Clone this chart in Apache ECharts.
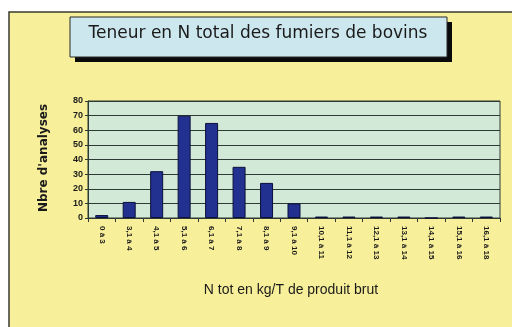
<!DOCTYPE html>
<html>
<head>
<meta charset="utf-8">
<script src="https://cdn.jsdelivr.net/npm/echarts@6/dist/echarts.min.js"></script>
<style>
  html, body { margin: 0; padding: 0; background: #ffffff; }
  #chart { width: 512px; height: 327px; }
</style>
</head>
<body>
<div id="chart"></div>
<script>
// Classes de teneur en azote total (kg/T de produit brut)
const categories = [
  '0 à 3', '3,1 à 4', '4,1 à 5', '5,1 à 6', '6,1 à 7', '7,1 à 8', '8,1 à 9',
  '9,1 à 10', '10,1 à 11', '11,1 à 12', '12,1 à 13', '13,1 à 14', '14,1 à 15',
  '15,1 à 16', '16,1 à 18'
];
// Nombre d'analyses par classe
const analyses = [2, 11, 32, 70, 65, 35, 24, 10, 1, 1, 1, 1, 0, 1, 1];
const yTicks = [0, 10, 20, 30, 40, 50, 60, 70, 80];

const titleText = 'Teneur en N total des fumiers de bovins';
const yName = "Nbre d'analyses";
const xName = 'N tot en kg/T de produit brut';

const chart = echarts.init(document.getElementById('chart'), null, { renderer: 'canvas' });

chart.setOption({
  backgroundColor: '#ffffff',
  animation: false,
  graphic: [
    // fond du graphique
    { type: 'rect', z: -10, shape: { x: 9, y: 12, width: 510, height: 320 },
      style: { fill: '#f8ef9a', stroke: '#3a3a30', lineWidth: 1.5 } },
    // ombre du cadre de titre
    { type: 'rect', z: 1, shape: { x: 75, y: 22, width: 377, height: 40 },
      style: { fill: '#0a0a0a' } },
    // cadre de titre
    { type: 'rect', z: 2, shape: { x: 70, y: 17, width: 377, height: 40 },
      style: { fill: '#cde7ee', stroke: '#2a2a2a', lineWidth: 1 } },
    { type: 'text', z: 3, x: 258, y: 34,
      style: { text: titleText, font: '17px "DejaVu Sans", sans-serif',
               fill: '#1a1a1a', align: 'center', verticalAlign: 'middle' } },
    // titre de l'axe vertical
    { type: 'text', z: 3, x: 44, y: 158, rotation: Math.PI / 2,
      style: { text: yName, font: 'bold 12px "DejaVu Sans", sans-serif',
               fill: '#1a1a1a', align: 'center', verticalAlign: 'middle' } },
    // titre de l'axe horizontal
    { type: 'text', z: 3, x: 291, y: 290,
      style: { text: xName, font: '14px "Liberation Sans", Arial, sans-serif',
               fill: '#1a1a1a', align: 'center', verticalAlign: 'middle' } }
  ],
  grid: {
    left: 88, right: 12, top: 101, bottom: 109,
    show: true, backgroundColor: '#d1e9d6', borderColor: '#2d3a34', borderWidth: 1
  },
  xAxis: {
    type: 'category',
    data: categories,
    boundaryGap: true,
    axisLine: { lineStyle: { color: '#2d3a34', width: 1 } },
    axisTick: { show: true, length: 4, lineStyle: { color: '#2d3a34' } },
    axisLabel: {
      interval: 0, rotate: -90, margin: 8,
      fontSize: 8, fontWeight: 'bold', color: '#1a1a1a',
      fontFamily: '"Liberation Sans", Arial, sans-serif'
    }
  },
  yAxis: {
    type: 'value',
    min: yTicks[0], max: yTicks[yTicks.length - 1], interval: 10,
    axisLine: { show: true, lineStyle: { color: '#2d3a34' } },
    axisTick: { show: true, length: 3, lineStyle: { color: '#2d3a34' } },
    splitLine: { show: true, lineStyle: { color: '#2d3a34', width: 1 } },
    axisLabel: {
      fontSize: 9, fontWeight: 'bold', color: '#1a1a1a', margin: 5,
      fontFamily: '"Liberation Sans", Arial, sans-serif'
    }
  },
  series: [{
    type: 'bar',
    data: analyses,
    barWidth: 13,
    itemStyle: { color: '#22308f', borderColor: '#0b0f3a', borderWidth: 1 }
  }]
});
</script>
</body>
</html>
